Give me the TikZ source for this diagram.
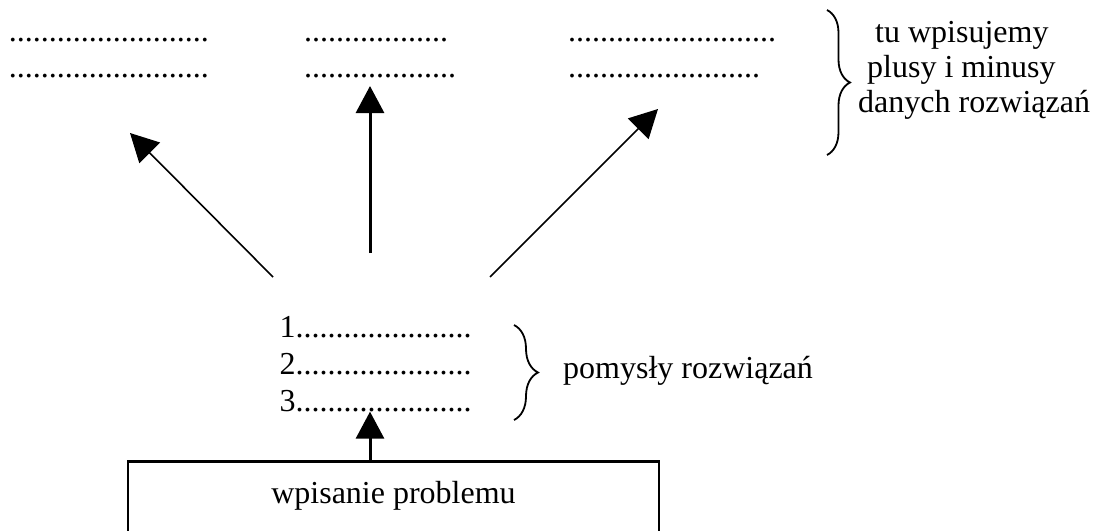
\documentclass[tikz,border=0pt]{standalone}
\usepackage{fontspec}
\setmainfont{Liberation Serif}
\usetikzlibrary{arrows.meta,decorations.pathreplacing}
\begin{document}
\begin{tikzpicture}[x=1pt,y=-1pt,
  txt/.style={font=\fontsize{32}{37}\selectfont, inner sep=0pt, anchor=base west},
  thinarr/.style={line width=1.6pt, -{Triangle[length=28pt,width=29pt]}},
  thickarr/.style={line width=3pt, -{Triangle[length=27pt,width=28pt]}},
  brc/.style={decorate, decoration={brace, amplitude=#1}, line width=1.8pt},
  probbox/.style={draw, line width=2.6pt, minimum width=531pt, text height=22pt, text depth=50pt, inner ysep=20pt, anchor=north, font=\fontsize{32}{37}\selectfont}
]
\useasboundingbox (0,0) rectangle (1100,530);
\clip (0,0) rectangle (1100,530);

% top rows of dots
\node[txt] (a1) at (8.7,41) {.........................};
\node[txt] (a2) at (8.7,77) {.........................};
\node[txt] (b1) at (304,41) {..................};
\node[txt] (b2) at (304,77) {...................};
\node[txt] (c1) at (568,41) {..........................};
\node[txt] (c2) at (568,77) {........................};

% upper right note
\node[txt] (r1) at (875,42) {tu wpisujemy};
\node[txt] (r2) at (867,77) {plusy i minusy};
\node[txt] (r3) at (858,112) {danych rozwiązań};

% ideas list
\node[txt] (i1) at (279.5,337) {1......................};
\node[txt] (i2) at (279.5,374) {2......................};
\node[txt] (i3) at (279.5,411) {3......................};
\node[txt] (p) at (563,378) {pomysły rozwiązań};

% problem box
\node[probbox] (box) at (393.5,460) {wpisanie problemu};

% arrows
\coordinate (s1) at (273,277);
\coordinate (t1) at (130,133);
\coordinate (s2) at (370,253);
\coordinate (t2) at (370,86);
\coordinate (s3) at (490,277);
\coordinate (t3) at (658,109);
\coordinate (m) at (370,0);
\draw[thinarr] (s1) -- (t1);
\draw[thickarr] (s2) -- (t2);
\draw[thinarr] (s3) -- (t3);
\draw[thickarr] (box.north -| m) -- (i3.south -| m);

% braces
\coordinate (ub1) at (827,10);
\coordinate (ub2) at (827,155);
\draw[brc=23pt] (ub1) -- (ub2);
\coordinate (lb1) at (514,325);
\coordinate (lb2) at (514,420);
\draw[brc=24pt] (lb1) -- (lb2);
\end{tikzpicture}
\end{document}
